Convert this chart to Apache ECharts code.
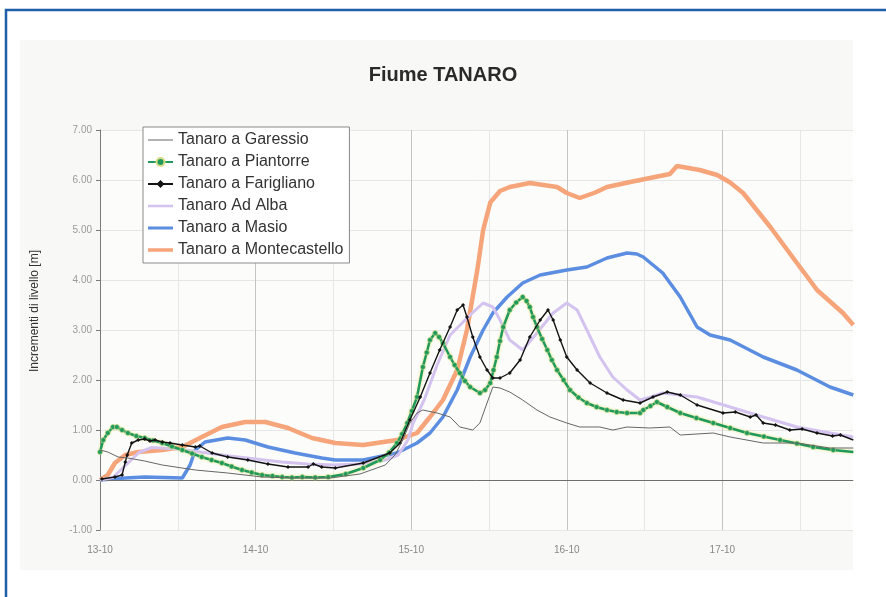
<!DOCTYPE html>
<html>
<head>
<meta charset="utf-8">
<title>Fiume TANARO</title>
<script src="https://cdn.jsdelivr.net/npm/echarts@6/dist/echarts.min.js"></script>
<style>
  html, body { margin: 0; padding: 0; background: #ffffff; }
  #chart { width: 886px; height: 597px; }
</style>
</head>
<body>
<div id="chart"></div>
<script>
// Hours elapsed since 13-10 00:00, level increment in metres
const seriesNames = [
  'Tanaro a Garessio',
  'Tanaro a Piantorre',
  'Tanaro a Farigliano',
  'Tanaro Ad Alba',
  'Tanaro a Masio',
  'Tanaro a Montecastello'
];

const dayLabels = ['13-10', '14-10', '15-10', '16-10', '17-10'];

const garessio = [
  [0,0.6],[1.2,0.56],[2.8,0.46],[4.3,0.44],[6.9,0.38],[9.6,0.3],[14.7,0.2],[19.7,0.14],
  [25.0,0.06],[30.1,0.04],[35.5,0.04],[40.1,0.12],[44.0,0.3],[45.5,0.5],[46.7,0.8],
  [47.8,1.14],[48.9,1.34],[49.8,1.4],[52.0,1.34],[54.0,1.26],[55.5,1.06],[57.5,1.0],
  [58.6,1.14],[59.7,1.54],[60.6,1.86],[61.7,1.84],[63.2,1.76],[65.2,1.6],[67.4,1.4],
  [69.4,1.26],[72.0,1.14],[74.0,1.06],[77.1,1.06],[79.1,1.0],[81.3,1.06],[84.8,1.04],
  [87.9,1.06],[89.5,0.9],[94.6,0.94],[97.2,0.86],[102.3,0.74],[107.5,0.74],[112.6,0.64],[116.2,0.64]
];

const piantorre = [
  [0,0.56],[0.5,0.8],[1.2,0.94],[2.0,1.06],[2.6,1.06],[3.4,1.0],[4.3,0.94],[5.6,0.88],
  [6.9,0.84],[8.2,0.79],[9.6,0.74],[11.1,0.67],[12.7,0.6],[14.2,0.53],[15.7,0.46],
  [17.2,0.4],[18.8,0.34],[20.3,0.27],[21.9,0.2],[23.4,0.15],[25.0,0.1],[26.6,0.08],
  [28.1,0.06],[29.6,0.05],[31.2,0.06],[33.2,0.05],[35.2,0.06],[37.9,0.12],[40.6,0.24],
  [43.2,0.4],[44.6,0.55],[45.8,0.74],[46.6,0.92],[47.4,1.14],[48.1,1.38],[48.9,1.66],
  [49.8,2.26],[50.4,2.55],[50.9,2.8],[51.7,2.94],[52.3,2.86],[52.9,2.74],[54.0,2.46],
  [54.7,2.3],[55.5,2.14],[56.3,1.98],[57.1,1.86],[58.6,1.74],[59.4,1.8],[60.2,1.94],
  [60.7,2.2],[61.2,2.46],[61.7,2.78],[62.2,3.06],[63.2,3.4],[64.2,3.55],[65.2,3.66],
  [65.8,3.58],[66.3,3.46],[66.8,3.26],[67.4,3.06],[68.2,2.82],[69.0,2.6],[69.7,2.4],
  [70.5,2.2],[71.5,2.0],[72.5,1.8],[73.8,1.65],[75.1,1.54],[76.6,1.46],[78.2,1.4],
  [79.7,1.36],[81.3,1.34],[83.3,1.34],[83.8,1.4],[84.9,1.48],[85.9,1.56],[87.5,1.46],
  [89.5,1.34],[92.0,1.24],[94.6,1.14],[97.2,1.04],[99.8,0.94],[102.4,0.87],[104.9,0.8],
  [107.5,0.73],[110.0,0.66],[113.1,0.6],[116.2,0.56]
];

const farigliano = [
  [0.3,0.02],[2.3,0.06],[3.4,0.1],[3.9,0.36],[4.2,0.5],[4.9,0.74],[5.9,0.8],[6.9,0.82],
  [7.7,0.78],[8.5,0.8],[9.6,0.76],[10.8,0.74],[12.7,0.7],[14.7,0.66],[15.4,0.68],
  [17.3,0.54],[19.7,0.46],[22.8,0.4],[25.9,0.32],[29.0,0.26],[32.1,0.26],[32.9,0.32],
  [34.2,0.26],[36.3,0.24],[40.6,0.34],[44.7,0.54],[46.3,0.74],[47.8,1.2],[49.4,1.66],
  [50.9,2.14],[52.4,2.6],[54.0,3.06],[55.1,3.4],[56.0,3.5],[56.6,3.26],[57.5,2.86],
  [58.6,2.46],[59.7,2.2],[60.6,2.04],[61.7,2.04],[63.2,2.14],[64.8,2.4],[66.3,2.86],
  [67.9,3.2],[69.1,3.4],[69.9,3.2],[71.0,2.8],[72.0,2.46],[73.6,2.2],[75.6,1.94],
  [78.2,1.74],[80.7,1.6],[83.3,1.54],[85.3,1.66],[87.5,1.76],[89.5,1.7],[92.1,1.5],
  [96.1,1.34],[98.0,1.36],[100.3,1.26],[101.2,1.3],[102.3,1.14],[104.2,1.1],[106.4,1.0],
  [108.3,1.02],[110.6,0.94],[113.0,0.88],[114.2,0.9],[116.2,0.8]
];

const adAlba = [
  [0,0.0],[2,0.05],[4,0.3],[6,0.55],[8,0.65],[12,0.62],[16,0.55],[20,0.48],[24,0.42],
  [28,0.36],[32,0.32],[36,0.3],[40,0.32],[44,0.4],[46,0.5],[47.5,0.8],[48.3,1.14],
  [50,1.6],[52,2.3],[54,2.9],[57.1,3.3],[59.1,3.54],[60.6,3.46],[61.7,3.2],[63.2,2.8],
  [65.2,2.6],[67.4,2.94],[69.9,3.34],[72.0,3.54],[73.6,3.4],[75.1,3.0],[77.1,2.46],
  [79.1,2.06],[81.3,1.8],[83.3,1.6],[85.0,1.66],[86.8,1.74],[92.1,1.66],[97.2,1.46],
  [102.3,1.26],[107.5,1.06],[112.6,0.94],[116.2,0.86]
];

const masio = [
  [0,0.0],[0.3,0.02],[3.9,0.04],[6.9,0.06],[12.7,0.04],[13.9,0.3],[14.7,0.6],[16.2,0.76],
  [19.7,0.84],[22.4,0.8],[25.9,0.66],[30.1,0.54],[34.2,0.44],[36.3,0.4],[40.6,0.4],
  [45.8,0.54],[48.9,0.74],[50.9,0.94],[52.9,1.26],[55.1,1.8],[57.1,2.46],[59.1,3.0],
  [60.6,3.34],[62.8,3.66],[65.2,3.94],[67.9,4.1],[72.0,4.2],[75.1,4.26],[78.2,4.44],
  [81.3,4.54],[82.8,4.52],[83.8,4.46],[86.8,4.14],[89.5,3.66],[92.1,3.06],[94.1,2.9],
  [97.2,2.8],[102.3,2.46],[107.5,2.2],[112.6,1.86],[116.2,1.7]
];

const montecastello = [
  [0,0.0],[1.2,0.1],[2.3,0.34],[3.9,0.5],[5.9,0.56],[9.6,0.6],[12.7,0.66],[15.7,0.86],
  [18.8,1.06],[22.4,1.16],[25.5,1.16],[29.0,1.04],[32.7,0.84],[36.3,0.74],[40.6,0.7],
  [45.8,0.8],[48.9,0.94],[50.9,1.26],[52.9,1.6],[55.1,2.2],[56.6,3.0],[58.2,4.2],
  [59.1,5.0],[60.2,5.55],[61.7,5.78],[63.2,5.86],[66.3,5.94],[70.5,5.86],[72.0,5.74],
  [74.0,5.64],[76.4,5.75],[78.2,5.86],[81.8,5.96],[85.6,6.06],[87.9,6.12],[89.0,6.28],
  [92.5,6.2],[95.2,6.1],[97.2,5.95],[99.2,5.74],[103.4,5.06],[107.5,4.34],[110.6,3.8],
  [114.6,3.34],[116.2,3.1]
];

const FONT = '"Liberation Sans", Arial, sans-serif';

// Legend key for plain lines: a horizontal bar of the given thickness inside a 25x10 box
// (tiny corner dots fix the box so the bar is not stretched to full height)
function lineKey(t) {
  const a = 5 - t / 2, b = 5 + t / 2;
  return 'path://M0,0L0.01,0L0,0.01Z M0,' + a + 'L25,' + a + 'L25,' + b + 'L0,' + b +
    'Z M25,10L24.99,10L25,9.99Z';
}

const chart = echarts.init(document.getElementById('chart'), null, { renderer: 'canvas' });

chart.setOption({
  backgroundColor: '#ffffff',
  animation: false,
  graphic: [
    {
      type: 'rect', z: -20, silent: true,
      shape: { x: 6, y: 10, width: 900, height: 620 },
      style: { fill: '#ffffff', stroke: '#1f5ea8', lineWidth: 2.5 }
    },
    {
      type: 'rect', z: -19, silent: true,
      shape: { x: 20, y: 40, width: 833, height: 530 },
      style: { fill: '#f8f8f6' }
    },
    {
      type: 'text', z: 10, silent: true,
      x: 35, y: 311, rotation: Math.PI / 2,
      style: {
        text: 'Incrementi di livello [m]',
        fill: '#333', font: '12px ' + FONT,
        align: 'center', verticalAlign: 'middle'
      }
    }
  ],
  title: {
    text: 'Fiume TANARO',
    left: 'center',
    top: 60,
    textStyle: { fontFamily: FONT, fontSize: 20, fontWeight: 'bold', color: '#2a2a2a' }
  },
  legend: {
    orient: 'vertical',
    left: 143,
    top: 127,
    data: [
      { name: seriesNames[0], icon: lineKey(1.2) },
      { name: seriesNames[1] },
      { name: seriesNames[2] },
      { name: seriesNames[3], icon: lineKey(2.5) },
      { name: seriesNames[4], icon: lineKey(3) },
      { name: seriesNames[5], icon: lineKey(3.5) }
    ],
    backgroundColor: '#ffffff',
    borderColor: '#8a8a8a',
    borderWidth: 1,
    borderRadius: 0,
    padding: [5, 6, 5, 4],
    itemWidth: 25,
    itemHeight: 10,
    itemGap: 6,
    textStyle: { fontFamily: FONT, fontSize: 16, lineHeight: 16, color: '#333' }
  },
  grid: {
    left: 100, right: 33, top: 130, bottom: 67,
    show: true, backgroundColor: '#fcfcfb', borderWidth: 0
  },
  xAxis: {
    type: 'value',
    min: 0,
    max: 116.15,
    interval: 12,
    axisLine: { show: true, lineStyle: { color: '#a8a8a8', width: 1 } },
    axisTick: { show: false },
    axisLabel: {
      margin: 15,
      color: '#888',
      fontFamily: FONT,
      fontSize: 10,
      showMaxLabel: false,
      formatter: v => (v % 24 === 0 ? (dayLabels[v / 24] || '') : '')
    },
    splitLine: {
      show: true,
      showMinLine: true,
      showMaxLine: false,
      lineStyle: { color: ['#c4c4c4', '#e6e6e6'], width: 1 }
    }
  },
  yAxis: {
    type: 'value',
    min: -1,
    max: 7,
    interval: 1,
    axisLine: { show: true, lineStyle: { color: '#7a7a7a', width: 1 } },
    axisTick: { show: true, length: 4, lineStyle: { color: '#7a7a7a' } },
    axisLabel: {
      margin: 8,
      color: '#9a9a9a',
      fontFamily: FONT,
      fontSize: 10,
      formatter: v => v.toFixed(2)
    },
    splitLine: { show: true, lineStyle: { color: '#e6e6e6', width: 1 } }
  },
  series: [
    {
      name: seriesNames[0], type: 'line', data: garessio, z: 8,
      showSymbol: false, symbol: 'none',
      lineStyle: { color: '#666666', width: 1 },
      itemStyle: { color: '#666666' }
    },
    {
      name: seriesNames[1], type: 'line', data: piantorre, z: 6,
      symbol: 'circle', symbolSize: 5, showSymbol: true,
      lineStyle: { color: '#1f9a5c', width: 2.5, shadowColor: 'rgba(228,228,110,0.9)', shadowBlur: 3 },
      itemStyle: { color: '#1f9a5c', borderColor: '#d9dd8a', borderWidth: 0.6 }
    },
    {
      name: seriesNames[2], type: 'line', data: farigliano, z: 7,
      symbol: 'diamond', symbolSize: 4, showSymbol: true,
      lineStyle: { color: '#141414', width: 1.4 },
      itemStyle: { color: '#141414' }
    },
    {
      name: seriesNames[3], type: 'line', data: adAlba, z: 5,
      showSymbol: false, symbol: 'none',
      lineStyle: { color: '#d3c3ee', width: 3 },
      itemStyle: { color: '#d3c3ee' }
    },
    {
      name: seriesNames[4], type: 'line', data: masio, z: 4,
      showSymbol: false, symbol: 'none',
      lineStyle: { color: '#5b8de0', width: 3.5 },
      itemStyle: { color: '#5b8de0' }
    },
    {
      name: seriesNames[5], type: 'line', data: montecastello, z: 3,
      showSymbol: false, symbol: 'none',
      lineStyle: { color: '#f6a47a', width: 4.5 },
      itemStyle: { color: '#f6a47a' },
      markLine: {
        silent: true,
        symbol: 'none',
        label: { show: false },
        lineStyle: { color: '#6e6e6e', width: 1, type: 'solid' },
        data: [{ yAxis: 0 }]
      }
    }
  ]
});
</script>
</body>
</html>
